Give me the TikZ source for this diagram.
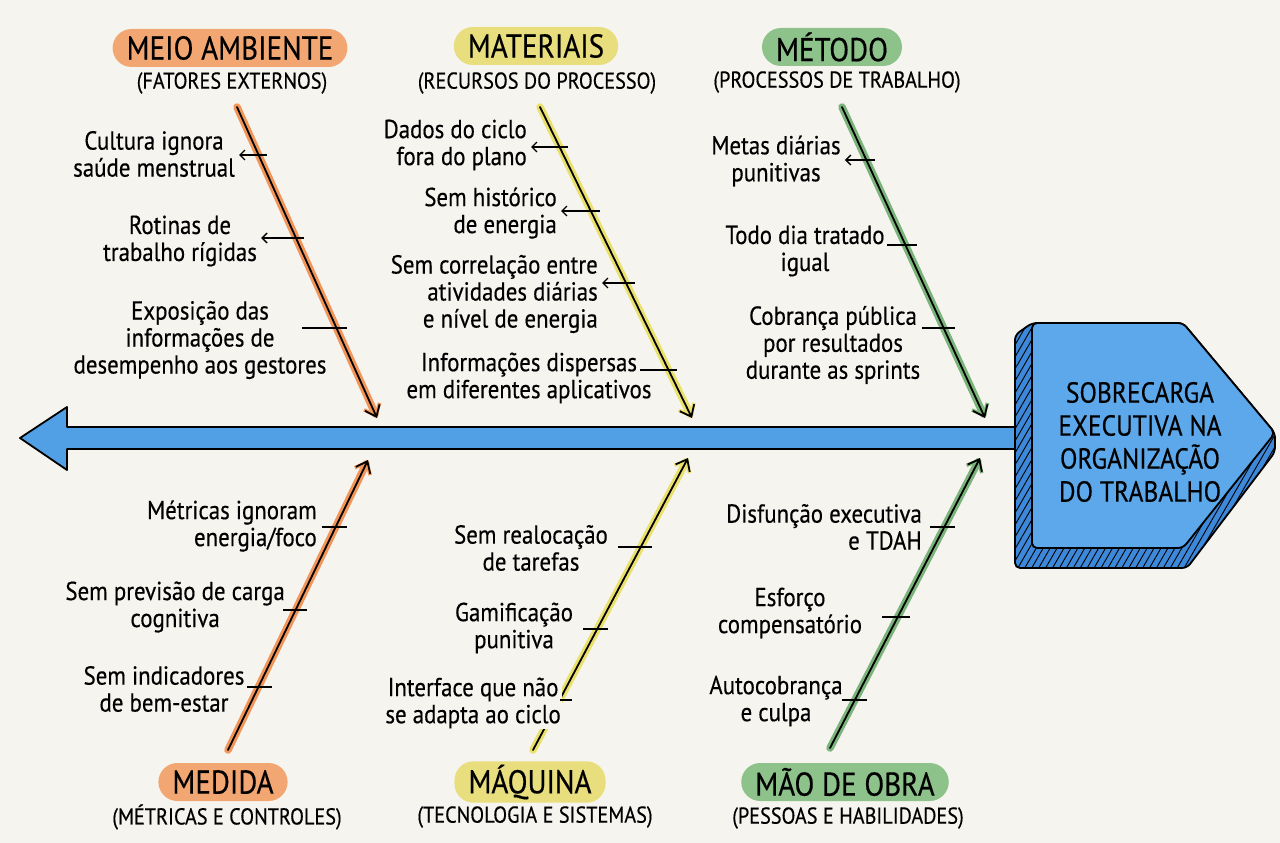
\documentclass[tikz,border=0pt]{standalone}
\usepackage{fontspec}
\setmainfont{PT Sans}[FakeStretch=0.88,FakeBold=0.4]
\usepackage{tikz}
\usetikzlibrary{arrows.meta}
\usetikzlibrary{patterns.meta}
\tikzset{>={Straight Barb[length=10pt,width=16pt]}}
\definecolor{paper}{HTML}{F6F4EE}
\definecolor{spineblue}{HTML}{519FE4}
\definecolor{headblue}{HTML}{5CA8EA}
\definecolor{headside}{HTML}{3D88D8}
\definecolor{envfill}{HTML}{F2A672}
\definecolor{envline}{HTML}{F29558}
\definecolor{matfill}{HTML}{E9DE7E}
\definecolor{matline}{HTML}{EAE06C}
\definecolor{metfill}{HTML}{8DC28B}
\definecolor{metline}{HTML}{7BB47A}
\tikzset{
  pill/.style={rounded corners=19pt, minimum height=38pt, inner xsep=14pt, font=\fontsize{33}{33}\selectfont},
  sub/.style={font=\fontsize{23}{23}\selectfont},
  cause/.style={align=center, inner sep=1pt, font=\fontsize{26}{27}\selectfont},
  bone/.style={line width=7.5pt, line cap=round, -{Straight Barb[length=10pt,width=17pt,line width=3.5pt]}},
  boneline/.style={->, line width=1.8pt, line cap=round},
  tick/.style={line width=1.4pt},
  tickarrow/.style={tick, -{Straight Barb[length=5pt,width=10pt]}, shorten >=3pt},
  spine/.style={line width=1.8pt, fill=spineblue, line join=round},
  headtext/.style={align=center, font=\fontsize{29}{33}\selectfont}
}

\begin{document}
\begin{tikzpicture}[x=1pt,y=-1pt]
  \useasboundingbox[fill=paper] (0,0) rectangle (1280,843);

  \draw[spine] (20,438) -- (67,407) -- (67,427) -- (1030,427) -- (1030,449) -- (67,449) -- (67,470) -- cycle;

  \coordinate (envA) at (237,107);
  \coordinate (envB) at (377,418);
  \coordinate (matA) at (540,107);
  \coordinate (matB) at (692,418);
  \coordinate (metA) at (842,107);
  \coordinate (metB) at (985,418);
  \coordinate (medA) at (228,750);
  \coordinate (medB) at (368,460);
  \coordinate (maqA) at (533,750);
  \coordinate (maqB) at (688,458);
  \coordinate (maoA) at (830,748);
  \coordinate (maoB) at (980,458);

  \draw[bone, envline] (envA) -- (envB);
  \draw[boneline] (envA) -- (envB);
  \draw[bone, matline] (matA) -- (matB);
  \draw[boneline] (matA) -- (matB);
  \draw[bone, metline] (metA) -- (metB);
  \draw[boneline] (metA) -- (metB);
  \draw[bone, envline] (medA) -- (medB);
  \draw[boneline] (medA) -- (medB);
  \draw[bone, matline] (maqA) -- (maqB);
  \draw[boneline] (maqA) -- (maqB);
  \draw[bone, metline] (maoA) -- (maoB);
  \draw[boneline] (maoA) -- (maoB);

  \node[pill, fill=envfill] (env) at (230,48) {MEIO AMBIENTE};
  \node[sub] (envsub) at (232,83) {(FATORES EXTERNOS)};
  \node[pill, fill=matfill] (mat) at (536,46) {MATERIAIS};
  \node[sub] (matsub) at (537,83) {(RECURSOS DO PROCESSO)};
  \node[pill, fill=metfill] (met) at (832,47) {MÉTODO};
  \node[sub] (metsub) at (837,82) {(PROCESSOS DE TRABALHO)};
  \node[pill, fill=envfill] (med) at (223,782) {MEDIDA};
  \node[sub] (medsub) at (227,817) {(MÉTRICAS E CONTROLES)};
  \node[pill, fill=matfill] (maq) at (530,782) {MÁQUINA};
  \node[sub] (maqsub) at (535,817) {(TECNOLOGIA E SISTEMAS)};
  \node[pill, fill=metfill] (mao) at (845,782) {MÃO DE OBRA};
  \node[sub] (maosub) at (848,818) {(PESSOAS E HABILIDADES)};

  \node[cause] (env1) at (154,154) {Cultura ignora\\saúde menstrual};
  \node[cause] (env2) at (180,241) {Rotinas de\\trabalho rígidas};
  \node[cause] (env3) at (200,340) {Exposição das\\informações de\\desempenho aos gestores};
  \node[cause, align=right, anchor=east] (mat1) at (528,145) {Dados do ciclo\\fora do plano};
  \node[cause, align=right, anchor=east] (mat2) at (558,213) {Sem histórico\\de energia};
  \node[cause, align=right, anchor=east] (mat3) at (599,294) {Sem correlação entre\\atividades diárias\\e nível de energia};
  \node[cause] (mat4) at (529,378) {Informações dispersas\\em diferentes aplicativos};
  \node[cause] (met1) at (776,161) {Metas diárias\\punitivas};
  \node[cause] (met2) at (805,251) {Todo dia tratado\\igual};
  \node[cause] (met3) at (833,345) {Cobrança pública\\por resultados\\durante as sprints};
  \node[cause, align=right, anchor=east] (med1) at (318,526) {Métricas ignoram\\energia/foco};
  \node[cause, anchor=east] (med2) at (286,607) {Sem previsão de carga\\cognitiva};
  \node[cause] (med3) at (164,689) {Sem indicadores\\de bem-estar};
  \node[cause] (maq1) at (531,548) {Sem realocação\\de tarefas};
  \node[cause] (maq2) at (514,628) {Gamificação\\punitiva};
  \node[cause, fill=paper, anchor=east] (maq3) at (562,703) {Interface que não\\se adapta ao ciclo};
  \node[cause, align=right, anchor=east] (mao1) at (923,527) {Disfunção executiva\\e TDAH};
  \node[cause] (mao2) at (790,613) {Esforço\\compensatório};
  \node[cause] (mao3) at (776,701) {Autocobrança\\e culpa};

  \coordinate (env1t) at (267,155);
  \coordinate (env2t) at (304,238);
  \coordinate (mat1t) at (568,147);
  \coordinate (mat2t) at (600,211);
  \coordinate (mat3t) at (635,283);
  \coordinate (met1t) at (875,160);
  \draw[tickarrow] (env1t) -- (env1t -| env1.east);
  \draw[tickarrow] (env2t) -- (env2t -| env2.east);
  \draw[tickarrow] (mat1t) -- (mat1t -| mat1.east);
  \draw[tickarrow] (mat2t) -- (mat2t -| mat2.east);
  \draw[tickarrow] (mat3t) -- (mat3t -| mat3.east);
  \draw[tickarrow] (met1t) -- (met1t -| met1.east);

  \coordinate (env3a) at (302,328);
  \coordinate (env3b) at (347,328);
  \coordinate (mat4a) at (640,370);
  \coordinate (mat4b) at (677,370);
  \coordinate (met2a) at (887,245);
  \coordinate (met2b) at (917,245);
  \coordinate (met3a) at (922,328);
  \coordinate (met3b) at (955,328);
  \coordinate (med1a) at (322,527);
  \coordinate (med1b) at (347,527);
  \coordinate (med2a) at (283,610);
  \coordinate (med2b) at (307,610);
  \coordinate (med3a) at (247,687);
  \coordinate (med3b) at (272,687);
  \coordinate (maq1a) at (618,547);
  \coordinate (maq1b) at (652,547);
  \coordinate (maq2a) at (583,629);
  \coordinate (maq2b) at (608,629);
  \coordinate (maq3a) at (560,700);
  \coordinate (maq3b) at (572,700);
  \coordinate (mao1a) at (930,527);
  \coordinate (mao1b) at (955,527);
  \coordinate (mao2a) at (882,617);
  \coordinate (mao2b) at (910,617);
  \coordinate (mao3a) at (842,700);
  \coordinate (mao3b) at (867,700);
  \draw[tick] (env3a) -- (env3b);
  \draw[tick] (mat4a) -- (mat4b);
  \draw[tick] (met2a) -- (met2b);
  \draw[tick] (met3a) -- (met3b);
  \draw[tick] (med1a) -- (med1b);
  \draw[tick] (med2a) -- (med2b);
  \draw[tick] (med3a) -- (med3b);
  \draw[tick] (maq1a) -- (maq1b);
  \draw[tick] (maq2a) -- (maq2b);
  \draw[tick] (maq3a) -- (maq3b);
  \draw[tick] (mao1a) -- (mao1b);
  \draw[tick] (mao2a) -- (mao2b);
  \draw[tick] (mao3a) -- (mao3b);

  \draw[line width=1.8pt, rounded corners=5pt, preaction={fill=headside}, pattern={Lines[angle=60,distance=6pt,line width=0.9pt]}, pattern color=black] (1032,323) -- (1183,323) -- (1275,433) -- (1275,452) -- (1187,568) -- (1015,568) -- (1015,335) -- cycle;
  \draw[line width=1.8pt, rounded corners=5pt, fill=headblue] (1032,323) -- (1183,323) -- (1275,433) -- (1183,548) -- (1032,548) -- cycle;
  \node[headtext] (effect) at (1140,442) {SOBRECARGA\\EXECUTIVA NA\\ORGANIZAÇÃO\\DO TRABALHO};
\end{tikzpicture}
\end{document}
